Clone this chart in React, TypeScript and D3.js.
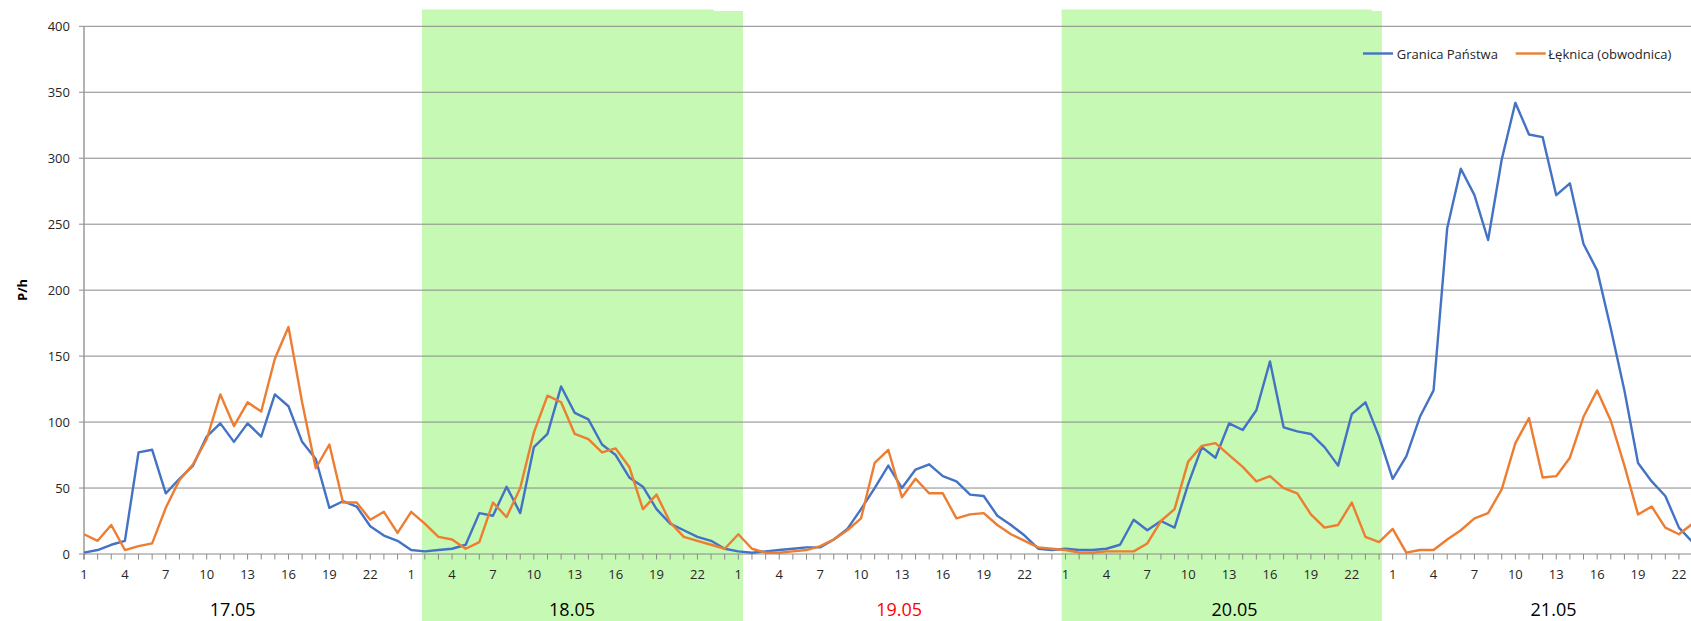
import React from "react";
import * as d3 from "d3";

// Days shown on the category axis
const days = ["17.05", "18.05", "19.05", "20.05", "21.05"];
const dayLabelColors = ["#000000", "#000000", "#ff0000", "#000000", "#000000"];
// hour offset (inside each day) where the day label is centred
const dayLabelHour = [10.9, 11.8, 11.8, 12.4, 11.8];
const hourLabels = [1, 4, 7, 10, 13, 16, 19, 22];
const yTicks = [0, 50, 100, 150, 200, 250, 300, 350, 400];

const seriesNames = ["Granica Państwa", "Łęknica (obwodnica)"];
const seriesColors = ["#4472C4", "#ED7D31"];

// Granica Państwa, hourly (1..24) per day
const granica = [
  // 17.05
  1, 3, 7, 10, 77, 79, 46, 57, 67, 89, 99, 85, 99, 89, 121, 112, 85, 72, 35, 40, 36, 21, 14, 10,
  // 18.05
  3, 2, 3, 4, 7, 31, 29, 51, 31, 81, 91, 127, 107, 102, 83, 75, 58, 51, 34, 23, 18, 13, 10, 4,
  // 19.05
  2, 1, 2, 3, 4, 5, 5, 11, 19, 34, 50, 67, 50, 64, 68, 59, 55, 45, 44, 29, 22, 14, 4, 3,
  // 20.05
  4, 3, 3, 4, 7, 26, 18, 25, 20, 53, 81, 73, 99, 94, 109, 146, 96, 93, 91, 81, 67, 106, 115, 89,
  // 21.05
  57, 74, 104, 124, 247, 292, 272, 238, 299, 342, 318, 316, 272, 281, 235, 215, 171, 124, 69, 55, 44, 20, 9, 7,
];

// Łęknica (obwodnica), hourly (1..24) per day
const leknica = [
  // 17.05
  15, 10, 22, 3, 6, 8, 35, 56, 68, 87, 121, 97, 115, 108, 148, 172, 115, 65, 83, 39, 39, 26, 32, 16,
  // 18.05
  32, 23, 13, 11, 4, 9, 39, 28, 50, 92, 120, 115, 91, 87, 77, 80, 66, 34, 45, 24, 13, 10, 7, 4,
  // 19.05
  15, 4, 1, 1, 2, 3, 6, 11, 18, 27, 69, 79, 43, 57, 46, 46, 27, 30, 31, 22, 15, 10, 5, 4,
  // 20.05
  3, 1, 1, 2, 2, 2, 8, 25, 34, 70, 82, 84, 75, 66, 55, 59, 50, 46, 30, 20, 22, 39, 13, 9,
  // 21.05
  19, 1, 3, 3, 11, 18, 27, 31, 49, 84, 103, 58, 59, 73, 104, 124, 101, 67, 30, 36, 20, 15, 23, 22,
];

// Weekend highlight bands, in hour-index units: [start, step, end]
const bands = [
  [24.79, 46.2, 48.34],
  [71.72, 94.46, 95.21],
];

const W = 1691;
const H = 621;
const FONT = "'Open Sans', 'Noto Sans', sans-serif";

export default function App() {
  const n = granica.length;
  const step = 13.632;
  const x = d3.scaleLinear().domain([0, n - 1]).range([84, 84 + (n - 1) * step]);
  const y = d3.scaleLinear().domain([0, 400]).range([554, 26.3]);
  const line = d3
    .line<number>()
    .x((_, i) => x(i))
    .y((d) => y(d));

  const series = [granica, leknica];
  const right = W;
  const y0 = y(0);

  return (
    <svg
      width={W}
      height={H}
      style={{ position: "absolute", left: 0, top: 0, background: "#fff" }}
      fontFamily={FONT}
    >
      {/* green bands */}
      {bands.map((b, i) => (
        <g key={"band" + i}>
          <rect x={x(b[0])} y={11} width={x(b[2]) - x(b[0])} height={H - 11} fill="#c6f9b3" />
          <rect x={x(b[0])} y={9.5} width={x(b[1]) - x(b[0])} height={3} fill="#c6f9b3" />
        </g>
      ))}

      {/* gridlines */}
      {yTicks.map((t) => (
        <line
          key={"g" + t}
          x1={84}
          x2={right}
          y1={y(t)}
          y2={y(t)}
          stroke="#8a8a8a"
          strokeWidth={1}
        />
      ))}

      {/* y axis */}
      <line x1={84} x2={84} y1={y(400)} y2={y0 + 5.5} stroke="#9a9a9a" strokeWidth={1.5} />
      {yTicks.map((t) => (
        <g key={"yt" + t}>
          <line x1={79} x2={84} y1={y(t)} y2={y(t)} stroke="#8a8a8a" />
          <text
            x={70}
            y={y(t)}
            textAnchor="end"
            dominantBaseline="central"
            fontSize={13}
            fill="#262626"
          >
            {t}
          </text>
        </g>
      ))}

      {/* x ticks */}
      {d3.range(n).map((i) => (
        <line key={"xt" + i} x1={x(i)} x2={x(i)} y1={y0} y2={y0 + 5.5} stroke="#8a8a8a" />
      ))}
      {days.map((d, di) =>
        hourLabels.map((h) => (
          <text
            key={"xl" + di + "-" + h}
            x={x(di * 24 + h - 1)}
            y={573.5}
            textAnchor="middle"
            dominantBaseline="central"
            fontSize={13}
            fill="#262626"
          >
            {h}
          </text>
        ))
      )}

      {/* day labels */}
      {days.map((d, di) => (
        <text
          key={"day" + di}
          x={x(di * 24 + dayLabelHour[di])}
          y={609}
          textAnchor="middle"
          dominantBaseline="central"
          fontSize={18}
          fill={dayLabelColors[di]}
        >
          {d}
        </text>
      ))}

      {/* y title */}
      <text
        transform="translate(21.5,290) rotate(-90)"
        textAnchor="middle"
        dominantBaseline="central"
        fontSize={13}
        fontWeight="bold"
        fill="#000"
      >
        P/h
      </text>

      {/* series lines */}
      {series.map((s, si) => (
        <path
          key={"s" + si}
          d={line(s) || ""}
          fill="none"
          stroke={seriesColors[si]}
          strokeWidth={2.4}
          strokeLinejoin="round"
        />
      ))}

      {/* legend */}
      {[
        { x1: 1363, tx: 1396.7 },
        { x1: 1515.7, tx: 1548.3 },
      ].map((l, i) => (
        <g key={"leg" + i}>
          <line x1={l.x1} x2={l.x1 + 30} y1={53.5} y2={53.5} stroke={seriesColors[i]} strokeWidth={2.4} />
          <text x={l.tx} y={53.5} dominantBaseline="central" fontSize={13} fill="#262626">
            {seriesNames[i]}
          </text>
        </g>
      ))}
    </svg>
  );
}
